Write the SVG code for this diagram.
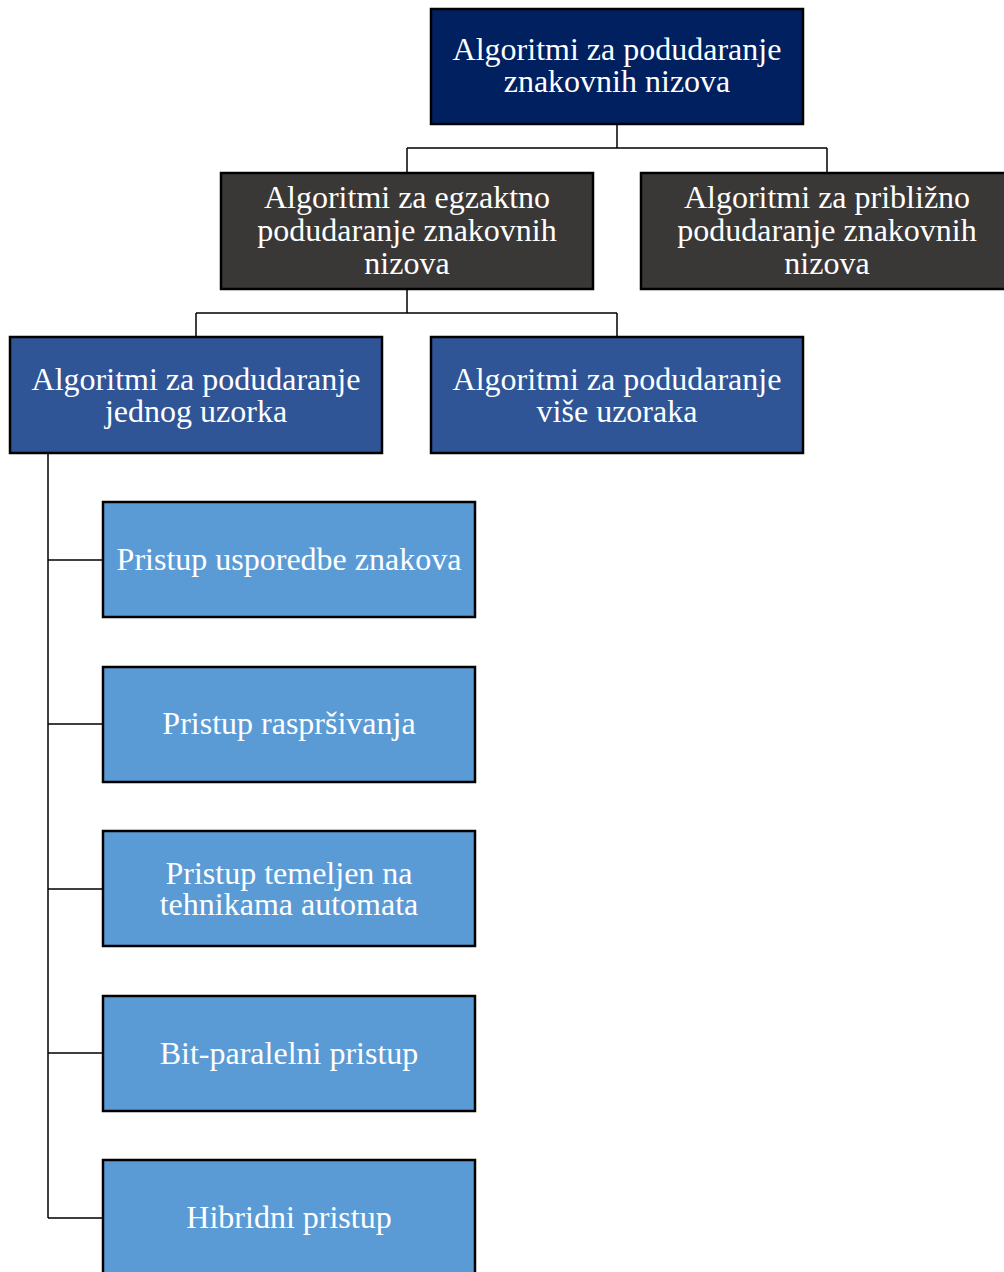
<svg xmlns="http://www.w3.org/2000/svg" width="1004" height="1272" viewBox="0 0 1004 1272">
<style>
  .n rect { stroke: #000; stroke-width: 2.5; }
  .n text { font-family: "Liberation Serif", "Times New Roman", serif; font-size: 32px; fill: #fff; text-anchor: middle; }
  .top rect { fill: #002060; }
  .l2 rect { fill: #3A3837; }
  .l3 rect { fill: #2F5597; }
  .l4 rect { fill: #5B9BD5; }
  #connectors path { fill: none; stroke: #000; stroke-width: 1.5; }
</style>
<rect width="1004" height="1272" fill="#fff"/>
<g id="connectors">
  <path d="M617 124 V148 M407 148 H827 M407 148 V173 M827 148 V173"/>
  <path d="M407 289 V313 M196 313 H617 M196 313 V337 M617 313 V337"/>
  <path d="M48 453 V1218 M48 560 H103 M48 724 H103 M48 889 H103 M48 1053 H103 M48 1218 H103"/>
</g>
<g id="n-root" class="n top">
  <rect x="431" y="9" width="372" height="115"/>
  <text x="617" y="60">Algoritmi za podudaranje</text>
  <text x="617" y="92">znakovnih nizova</text>
</g>
<g id="n-exact" class="n l2">
  <rect x="221" y="173" width="372" height="116"/>
  <text x="407" y="208">Algoritmi za egzaktno</text>
  <text x="407" y="241">podudaranje znakovnih</text>
  <text x="407" y="274">nizova</text>
</g>
<g id="n-approx" class="n l2">
  <rect x="641" y="173" width="372" height="116"/>
  <text x="827" y="208">Algoritmi za približno</text>
  <text x="827" y="241">podudaranje znakovnih</text>
  <text x="827" y="274">nizova</text>
</g>
<g id="n-single" class="n l3">
  <rect x="10" y="337" width="372" height="116"/>
  <text x="196" y="390">Algoritmi za podudaranje</text>
  <text x="196" y="422">jednog uzorka</text>
</g>
<g id="n-multi" class="n l3">
  <rect x="431" y="337" width="372" height="116"/>
  <text x="617" y="390">Algoritmi za podudaranje</text>
  <text x="617" y="422">više uzoraka</text>
</g>
<g id="n-compare" class="n l4">
  <rect x="103" y="502" width="372" height="115"/>
  <text x="289" y="570">Pristup usporedbe znakova</text>
</g>
<g id="n-hash" class="n l4">
  <rect x="103" y="667" width="372" height="115"/>
  <text x="289" y="734">Pristup raspršivanja</text>
</g>
<g id="n-automata" class="n l4">
  <rect x="103" y="831" width="372" height="115"/>
  <text x="289" y="884">Pristup temeljen na</text>
  <text x="289" y="915">tehnikama automata</text>
</g>
<g id="n-bitparallel" class="n l4">
  <rect x="103" y="996" width="372" height="115"/>
  <text x="289" y="1064">Bit-paralelni pristup</text>
</g>
<g id="n-hybrid" class="n l4">
  <rect x="103" y="1160" width="372" height="120"/>
  <text x="289" y="1228">Hibridni pristup</text>
</g>
</svg>
